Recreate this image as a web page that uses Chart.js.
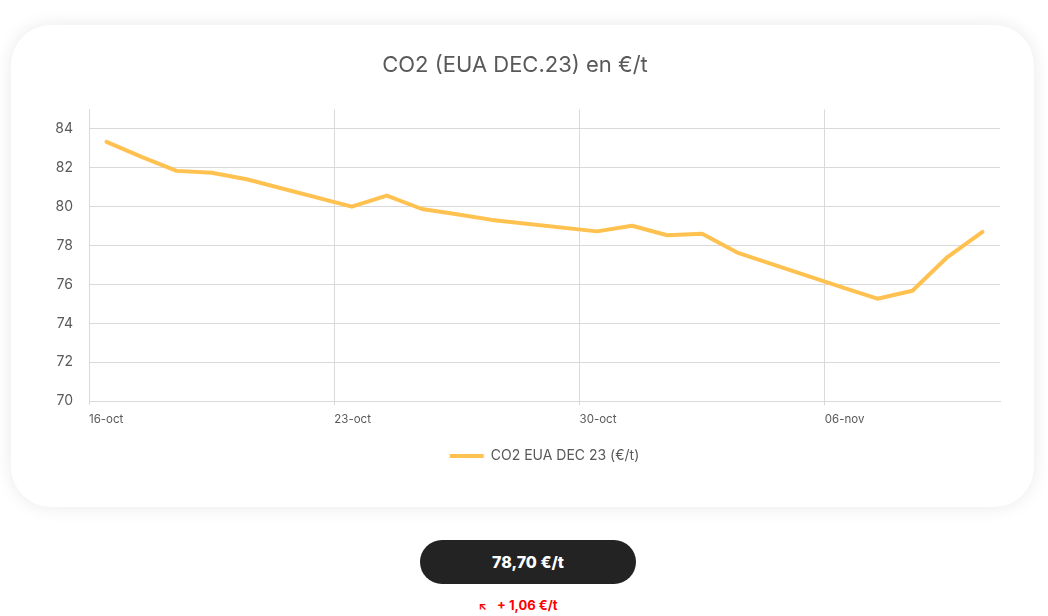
<!DOCTYPE html>
<html>
<head>
<meta charset="utf-8">
<script src="https://cdn.jsdelivr.net/npm/chart.js@4.4.0/dist/chart.umd.min.js"></script>
<style>
  body { margin: 0; background: #fff; font-family: "Inter", "Lato", sans-serif; }
  .card { position: absolute; left: 11px; top: 25px; width: 1023px; height: 482px;
          background: #fff; border-radius: 40px; box-shadow: 0 0 18px rgba(0,0,0,0.09); }
  .wrap { position: absolute; left: 30px; top: 40px; width: 990px; height: 433px; }
  .price { position: absolute; left: 420px; top: 540px; width: 216px; height: 44px;
           border-radius: 22px; background: #232323; color: #fff; font-weight: 800;
           font-size: 16px; line-height: 44px; text-align: center; }
  .delta { position: absolute; left: -6px; width: 1048px; top: 597px; text-align: center;
           color: #ff0000; font-weight: 700; font-size: 13px; }
  .delta span { display: inline-block; margin-right: 10px; font-size: 11px; }
</style>
</head>
<body>
<div class="card"></div>
<div class="wrap"><canvas id="co2"></canvas></div>
<div class="price" id="price"></div>
<div class="delta" id="delta"></div>
<script>
const seriesName = "CO2 EUA DEC 23 (€/t)"
const dates = ["2023-10-16", "2023-10-17", "2023-10-18", "2023-10-19", "2023-10-20",
  "2023-10-23", "2023-10-24", "2023-10-25", "2023-10-26", "2023-10-27",
  "2023-10-30", "2023-10-31", "2023-11-01", "2023-11-02", "2023-11-03",
  "2023-11-06", "2023-11-07", "2023-11-08", "2023-11-09", "2023-11-10"]
const prices = [83.33, 82.56, 81.84, 81.74, 81.41,
  80.0, 80.57, 79.88, 79.61, 79.32,
  78.73, 79.02, 78.53, 78.61, 77.64,
  75.85, 75.27, 75.68, 77.41, 78.70]
const xTickDates = ["2023-10-16", "2023-10-23", "2023-10-30", "2023-11-06"]
const xTickLabels = ["16-oct", "23-oct", "30-oct", "06-nov"]
const yTicks = [70, 72, 74, 76, 78, 80, 82, 84]
const lastClose = "78,70 €/t"
const change = "+ 1,06 €/t"

const dayMs = 86400000
const start = Date.parse(dates[0])
function dayOf(d) { return (Date.parse(d) - start) / dayMs }
const points = dates.map((d, i) => ({ x: dayOf(d), y: prices[i] }))
const lastDay = dayOf(dates[dates.length - 1])

document.getElementById("price").textContent = lastClose
document.getElementById("delta").innerHTML = "<span>&#8598;</span>" + change

const grey = "#d9d9d9"
const textGrey = "#595959"

new Chart(document.getElementById("co2"), {
  type: "line",
  data: {
    datasets: [{
      label: seriesName,
      data: points,
      borderColor: "#ffc14f",
      backgroundColor: "#ffc14f",
      borderWidth: 4,
      borderCapStyle: "round",
      borderJoinStyle: "round",
      pointRadius: 0,
      tension: 0
    }]
  },
  options: {
    responsive: true,
    maintainAspectRatio: false,
    animation: false,
    layout: { padding: { left: 0, right: 20, top: 0, bottom: 0 } },
    plugins: {
      title: {
        display: true,
        text: "CO2 (EUA DEC.23) en €/t",
        color: textGrey,
        font: { family: "Inter", size: 22, weight: "normal" },
        padding: { top: 12, bottom: 31 }
      },
      legend: {
        position: "bottom",
        fullSize: false,
        labels: {
          color: textGrey,
          font: { family: "Inter", size: 14 },
          usePointStyle: true,
          pointStyle: "line",
          pointStyleWidth: 34,
          padding: 10
        }
      },
      tooltip: { enabled: false }
    },
    scales: {
      x: {
        type: "linear",
        min: -0.5,
        max: lastDay + 0.5,
        afterBuildTicks: s => { s.ticks = xTickDates.map(d => ({ value: dayOf(d) - 0.5 })) },
        afterFit: s => { s.height += 6 },
        ticks: {
          align: "start",
          color: textGrey,
          font: { family: "Inter", size: 11.5 },
          padding: 7,
          maxRotation: 0,
          callback: (v, i) => xTickLabels[i]
        },
        grid: { color: grey, tickLength: 4, drawTicks: true },
        border: { color: grey }
      },
      y: {
        min: 70,
        max: 85,
        afterBuildTicks: s => { s.ticks = yTicks.map(v => ({ value: v })) },
        afterFit: s => { s.width = 59 },
        ticks: {
          color: textGrey,
          font: { family: "Inter", size: 14 },
          padding: 16
        },
        grid: { color: grey, drawTicks: false },
        border: { color: grey }
      }
    }
  }
})
</script>
</body>
</html>
